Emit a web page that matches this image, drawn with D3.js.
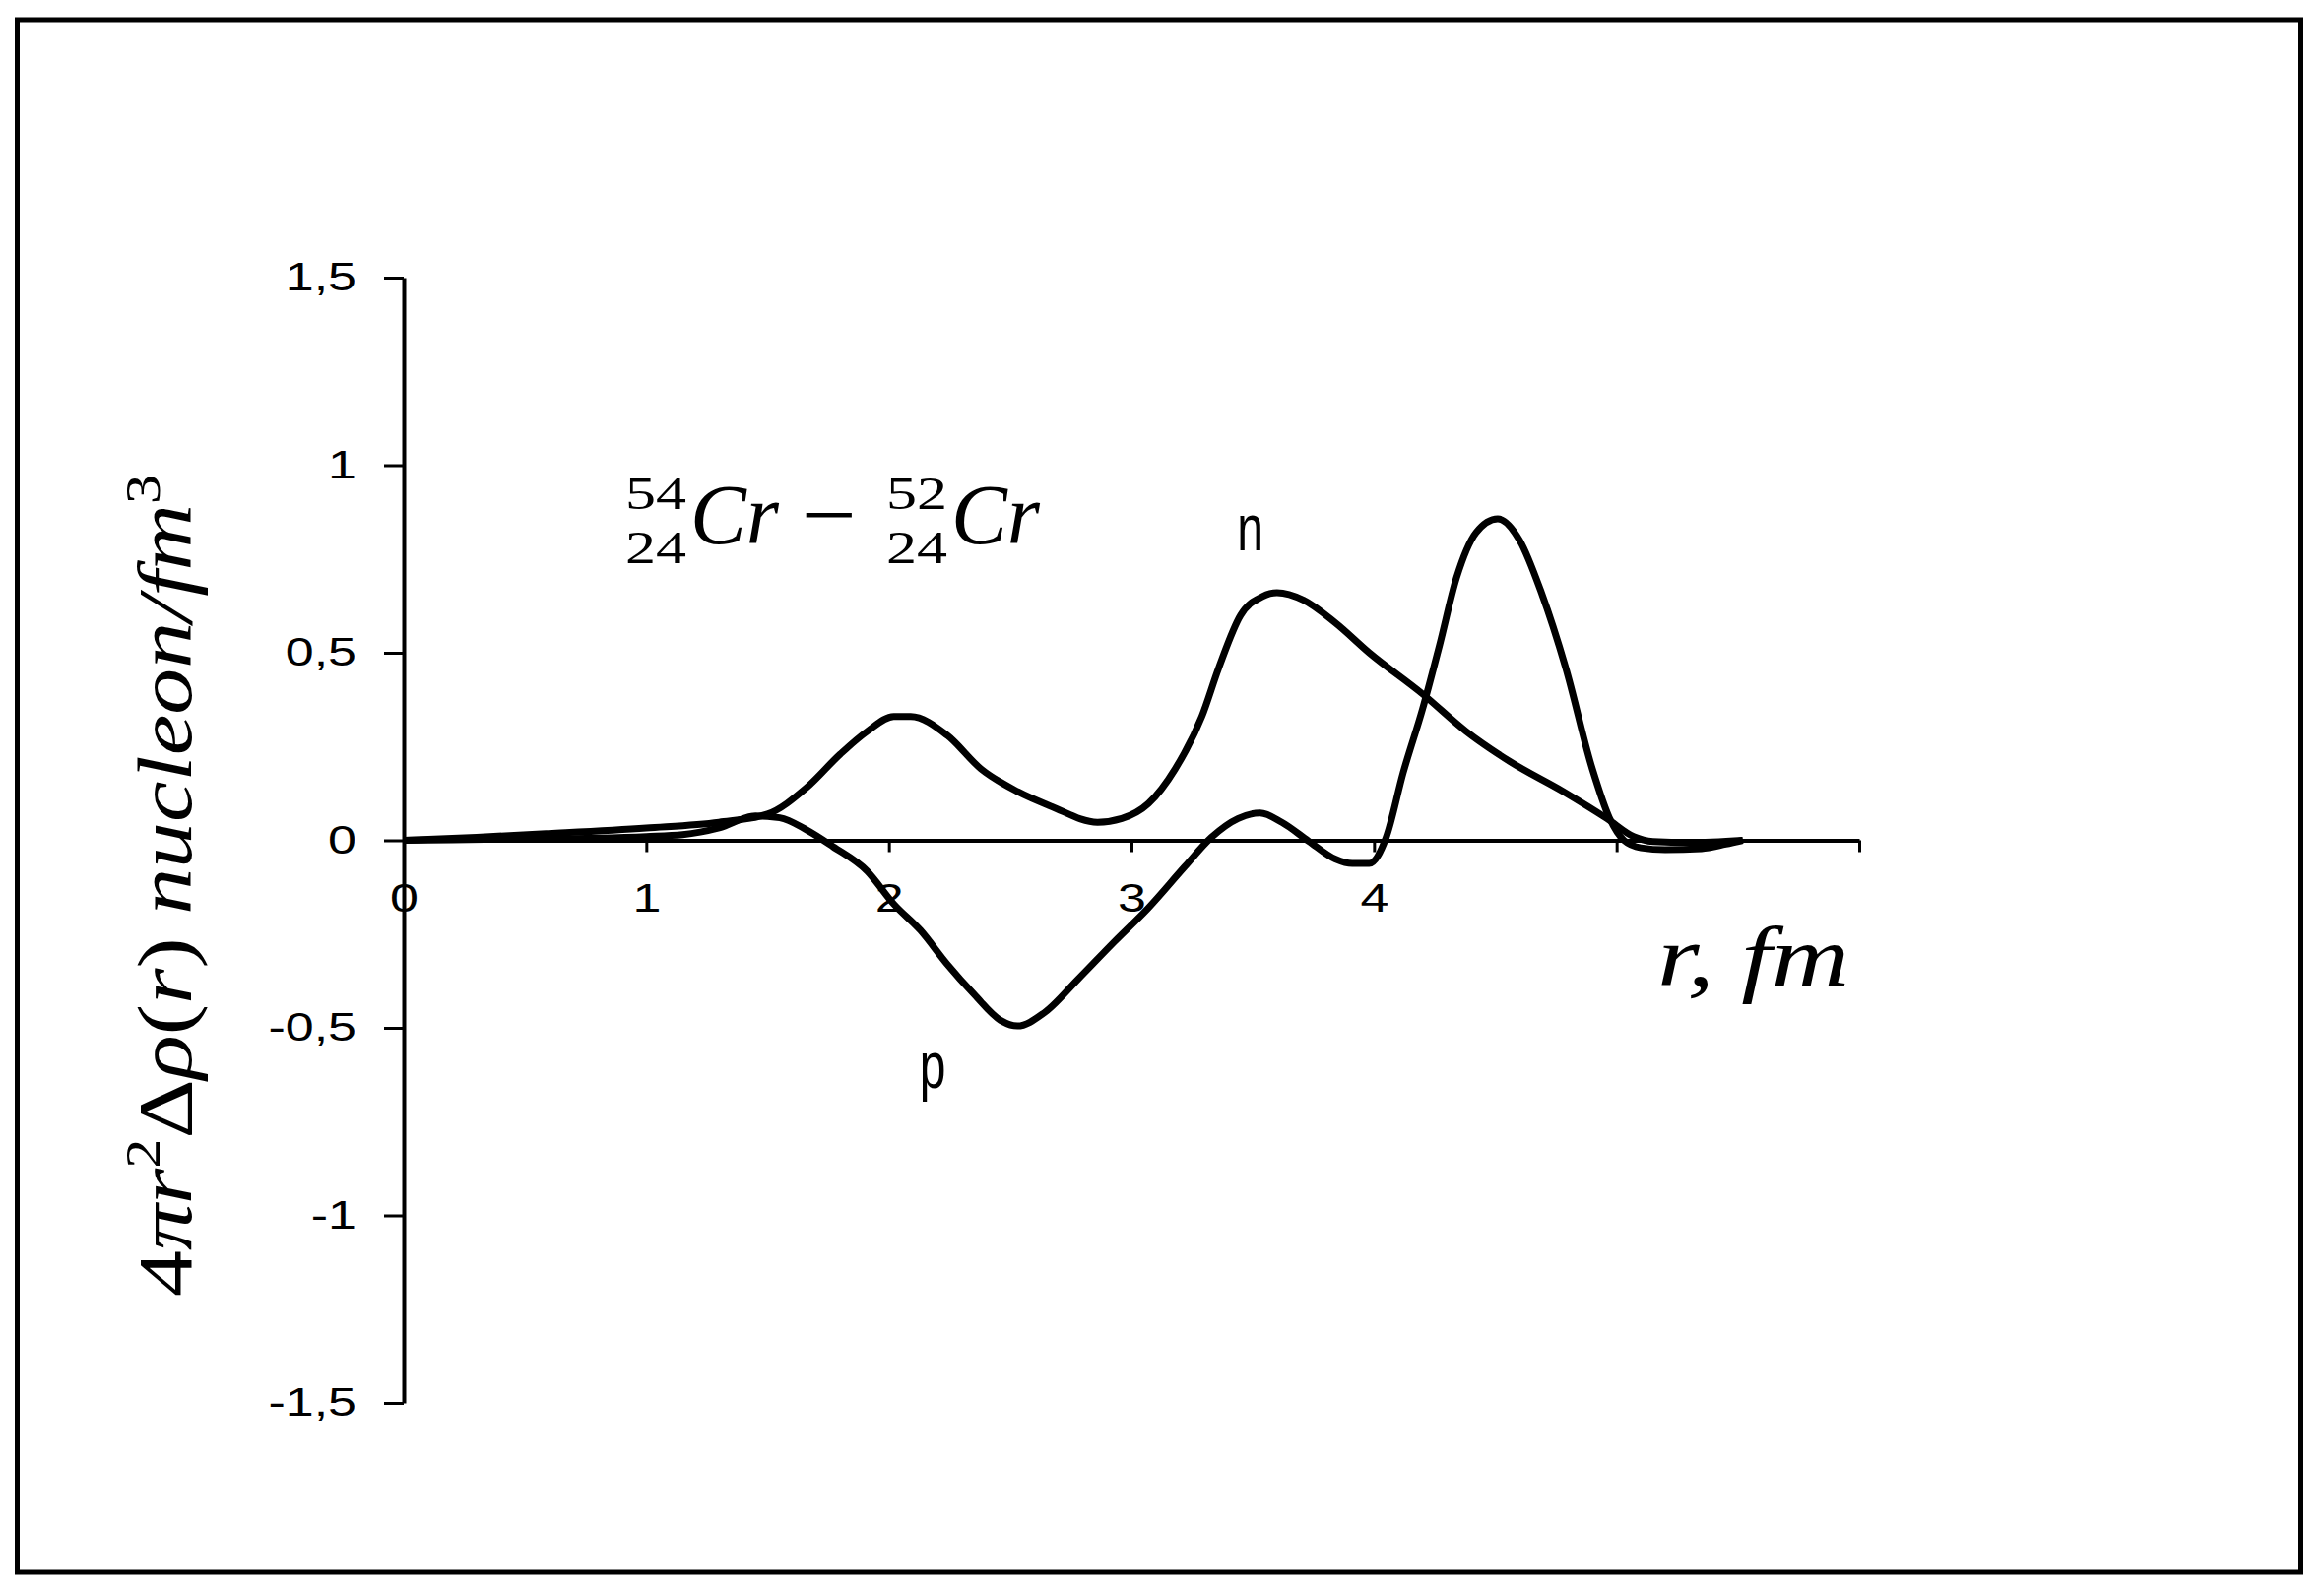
<!DOCTYPE html>
<html>
<head>
<meta charset="utf-8">
<script src="https://cdn.jsdelivr.net/npm/d3@7"></script>
<style>
  body { margin: 0; background: #fff; }
  svg { display: block; }
</style>
</head>
<body>
<div id="chart"></div>
<script>
// values: r in fm, 4πr²Δρ(r) in nucleon/fm³
const rNeutron = [0, 0.3, 0.6, 1.0, 1.3, 1.5, 1.66, 1.8, 1.91, 2.02, 2.09, 2.24, 2.38, 2.53, 2.67, 2.86, 2.96, 3.07, 3.18, 3.29, 3.36, 3.45, 3.54, 3.6, 3.71, 3.84, 3.98, 4.2, 4.38, 4.56, 4.78, 4.96, 5.07, 5.15, 5.3, 5.52];
const neutronDiff = [0, 0.008, 0.018, 0.033, 0.048, 0.07, 0.14, 0.23, 0.29, 0.33, 0.33, 0.28, 0.19, 0.13, 0.09, 0.048, 0.058, 0.098, 0.19, 0.33, 0.46, 0.6, 0.65, 0.66, 0.64, 0.58, 0.5, 0.39, 0.29, 0.21, 0.13, 0.058, 0.01, -0.003, -0.006, 0];

const rProton = [0, 0.4, 0.8, 1.0, 1.15, 1.3, 1.45, 1.55, 1.66, 1.77, 1.91, 2.02, 2.13, 2.24, 2.35, 2.46, 2.53, 2.64, 2.78, 2.93, 3.07, 3.22, 3.33, 3.44, 3.53, 3.62, 3.73, 3.84, 3.91, 3.98, 4.05, 4.12, 4.2, 4.27, 4.34, 4.42, 4.51, 4.6, 4.69, 4.79, 4.9, 4.97, 5.03, 5.1, 5.2, 5.35, 5.45, 5.52];
const protonDiff = [0, 0.003, 0.006, 0.01, 0.015, 0.033, 0.065, 0.06, 0.028, -0.017, -0.082, -0.17, -0.24, -0.33, -0.41, -0.48, -0.495, -0.46, -0.37, -0.27, -0.18, -0.07, 0.008, 0.058, 0.073, 0.048, -0.002, -0.05, -0.062, -0.062, 0.008, 0.18, 0.35, 0.52, 0.7, 0.82, 0.857, 0.8, 0.66, 0.46, 0.19, 0.06, 0.0, -0.02, -0.025, -0.022, -0.01, 0];

const xTicks = [0, 1, 2, 3, 4, 5, 6];
const xTickLabels = ["0", "1", "2", "3", "4", "", ""];
const yTicks = [-1.5, -1, -0.5, 0, 0.5, 1, 1.5];
const yTickLabels = ["-1,5", "-1", "-0,5", "0", "0,5", "1", "1,5"];

function drawChart(containerId) {
    const width = 2360;
    const height = 1615;
    const mathFont = "'Liberation Serif', 'DejaVu Serif', serif";
    const tickFont = "'Liberation Sans', Arial, sans-serif";

    const svg = d3.select(containerId)
        .append("svg")
        .attr("width", width)
        .attr("height", height);

    svg.append("rect")
        .attr("width", width).attr("height", height)
        .attr("fill", "#fff");

    // outer frame
    svg.append("rect")
        .attr("x", 17.5).attr("y", 20)
        .attr("width", 2319).attr("height", 1577)
        .attr("fill", "none")
        .attr("stroke", "#000")
        .attr("stroke-width", 5);

    // --- Scales ---
    const x = d3.scaleLinear().domain([0, 6]).range([410, 1888]);
    const y = d3.scaleLinear().domain([-1.5, 1.5]).range([1425, 282]);

    // stretch the tick text a bit, the original labels are wide
    function widen(sel, k) {
        sel.each(function () {
            const w = this.getComputedTextLength();
            d3.select(this).attr("textLength", w * k).attr("lengthAdjust", "spacingAndGlyphs");
        });
    }

    // --- Axes ---
    const yAxis = d3.axisLeft(y)
        .tickValues(yTicks)
        .tickFormat((d, i) => yTickLabels[i])
        .tickSize(20)
        .tickSizeOuter(0)
        .tickPadding(28);

    const gy = svg.append("g")
        .attr("transform", `translate(${x(0)},0)`)
        .call(yAxis);

    const xAxis = d3.axisBottom(x)
        .tickValues(xTicks)
        .tickFormat((d, i) => xTickLabels[i])
        .tickSize(12)
        .tickSizeOuter(0)
        .tickPadding(32);

    const gx = svg.append("g")
        .attr("transform", `translate(0,${y(0)})`)
        .call(xAxis);

    [gx, gy].forEach(g => {
        g.select(".domain").attr("stroke", "#000").attr("stroke-width", 4);
        g.selectAll(".tick line").attr("stroke", "#000").attr("stroke-width", 3);
        g.selectAll(".tick text")
            .attr("fill", "#000")
            .style("font-family", tickFont)
            .style("font-size", "40px");
        widen(g.selectAll(".tick text"), 1.3);
    });

    // --- Curves ---
    const line = d3.line()
        .x(d => x(d[0]))
        .y(d => y(d[1]))
        .curve(d3.curveMonotoneX);

    const series = [
        d3.zip(rNeutron, neutronDiff),
        d3.zip(rProton, protonDiff)
    ];

    svg.selectAll(".curve")
        .data(series)
        .enter()
        .append("path")
        .attr("class", "curve")
        .attr("d", line)
        .attr("fill", "none")
        .attr("stroke", "#000")
        .attr("stroke-width", 7)
        .attr("stroke-linejoin", "round");

    // --- curve labels n / p ---
    const tag = (txt, cx, base) => svg.append("text")
        .attr("transform", `translate(${cx},${base}) scale(1,1.4)`)
        .attr("text-anchor", "middle")
        .style("font-family", tickFont)
        .style("font-size", "48px")
        .text(txt);
    tag("n", x(3.49), 559);
    tag("p", x(2.18), 1105);

    // --- nuclide formula: mass number over charge number, then Cr ---
    const nuclide = (x0, mass) => {
        [[mass, 517], ["24", 572]].forEach(([s, base]) => {
            svg.append("text").attr("x", x0).attr("y", base)
                .attr("textLength", 62).attr("lengthAdjust", "spacingAndGlyphs")
                .style("font-family", mathFont).style("font-size", "47px")
                .text(s);
        });
        svg.append("text").attr("x", x0 + 66).attr("y", 552)
            .attr("textLength", 90).attr("lengthAdjust", "spacingAndGlyphs")
            .style("font-family", mathFont).style("font-size", "86px")
            .style("font-style", "italic")
            .text("Cr");
    };
    nuclide(635, "54");
    svg.append("text").attr("x", 814).attr("y", 552)
        .attr("textLength", 56).attr("lengthAdjust", "spacingAndGlyphs")
        .style("font-family", mathFont).style("font-size", "86px")
        .text("\u2212");
    nuclide(900, "52");

    // --- axis titles ---
    svg.append("text")
        .attr("x", 1683).attr("y", 1001)
        .attr("textLength", 195).attr("lengthAdjust", "spacingAndGlyphs")
        .style("font-family", mathFont).style("font-size", "86px")
        .style("font-style", "italic")
        .text("r, fm");

    const yTitle = svg.append("text")
        .attr("transform", "translate(194,1317) rotate(-90)")
        .attr("textLength", 835).attr("lengthAdjust", "spacingAndGlyphs")
        .style("font-family", mathFont).style("font-size", "78px")
        .style("font-style", "italic");
    yTitle.append("tspan").style("font-style", "normal").text("4");
    yTitle.append("tspan").text("\u03c0r");
    yTitle.append("tspan").attr("dy", -32).style("font-size", "50px").style("font-style", "normal").text("2");
    yTitle.append("tspan").attr("dy", 32).style("font-style", "normal").text("\u0394");
    yTitle.append("tspan").text("\u03c1");
    yTitle.append("tspan").style("font-style", "normal").text("(");
    yTitle.append("tspan").text("r");
    yTitle.append("tspan").style("font-style", "normal").text(")");
    yTitle.append("tspan").text(" nucleon/fm");
    yTitle.append("tspan").attr("dy", -32).style("font-size", "50px").style("font-style", "normal").text("3");
}

drawChart("#chart");
</script>
</body>
</html>
